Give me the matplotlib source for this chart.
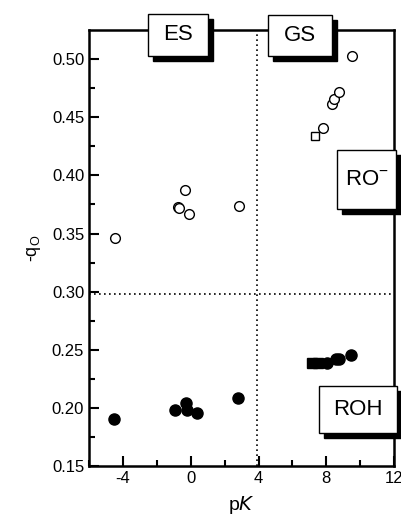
import matplotlib.pyplot as plt
from matplotlib.patches import Rectangle

plt.rcParams['font.family'] = ['Liberation Sans', 'DejaVu Sans']
plt.rcParams['axes.unicode_minus'] = False

# anion RO- (open symbols)
ro_circ_pk = [-4.47, -0.76, -0.68, -0.35, -0.12, 2.82, 7.82, 8.35, 8.47, 8.76, 9.53]
ro_circ_q = [0.346, 0.373, 0.372, 0.387, 0.367, 0.374, 0.441, 0.461, 0.466, 0.472, 0.503]
ro_sq_pk = [7.3]
ro_sq_q = [0.434]

# neutral ROH (filled symbols)
roh_circ_pk = [-4.5, -0.94, -0.29, -0.24, 0.35, 2.76, 8.06, 8.55, 8.75, 9.47]
roh_circ_q = [0.191, 0.198, 0.204, 0.198, 0.196, 0.209, 0.239, 0.242, 0.242, 0.246]
roh_sq_pk = [7.15, 7.5]
roh_sq_q = [0.239, 0.239]

x_split = 3.9
y_split = 0.298

fig = plt.figure(figsize=(4.01, 5.25), dpi=100)
ax = fig.add_axes([0.222, 0.112, 0.761, 0.831])

ax.plot(ro_circ_pk, ro_circ_q, 'o', mfc='white', mec='black', ms=7, mew=1, zorder=3)
ax.plot(ro_sq_pk, ro_sq_q, 's', mfc='white', mec='black', ms=6, mew=1, zorder=3)
ax.plot(roh_circ_pk, roh_circ_q, 'o', color='black', ms=8, zorder=3)
ax.plot(roh_sq_pk, roh_sq_q, 's', color='black', ms=6.5, zorder=3)

ax.axvline(x_split, color='black', ls=(0, (1, 2)), lw=1.2)
ax.axhline(y_split, color='black', ls=(0, (1, 2)), lw=1.2)

ax.set_xlim(-6, 12)
ax.set_ylim(0.15, 0.525)
ax.set_xticks([-4, 0, 4, 8, 12])
ax.set_xticks([-6, -2, 2, 6, 10], minor=True)
ax.set_yticks([0.15, 0.20, 0.25, 0.30, 0.35, 0.40, 0.45, 0.50])
ax.set_yticks([0.175, 0.225, 0.275, 0.325, 0.375, 0.425, 0.475], minor=True)
ax.set_yticklabels(['0.15', '0.20', '0.25', '0.30', '0.35', '0.40', '0.45', '0.50'])
ax.tick_params(which='both', direction='in', labelsize=12, width=1.5)
ax.tick_params(which='major', length=7)
ax.tick_params(which='minor', length=4)
for s in ax.spines.values():
    s.set_linewidth(1.8)

ax.set_xlabel('p$\\it{K}$', fontsize=14, labelpad=6)
ax.set_ylabel('-q$_\\mathregular{O}$', fontsize=13, labelpad=6)

# labelled boxes with drop shadow, sitting on the frame
boxes = [
    ('ES', 0.193, 0.940, 0.197, 0.097),
    ('GS', 0.587, 0.940, 0.210, 0.094),
    ('RO$^{\\mathregular{-}}$', 0.813, 0.589, 0.194, 0.136),
    ('ROH', 0.754, 0.076, 0.256, 0.107),
]
dx, dy = 0.016, 0.011
for label, x0, y0, w, h in boxes:
    ax.add_patch(Rectangle((x0 + dx, y0 - dy), w, h, transform=ax.transAxes,
                           facecolor='black', edgecolor='black', clip_on=False, zorder=5))
    ax.add_patch(Rectangle((x0, y0), w, h, transform=ax.transAxes,
                           facecolor='white', edgecolor='black', lw=1, clip_on=False, zorder=6))
    ax.text(x0 + w / 2, y0 + h / 2, label, transform=ax.transAxes, ha='center',
            va='center', fontsize=16, zorder=7)

fig.savefig('out.png', dpi=100)
